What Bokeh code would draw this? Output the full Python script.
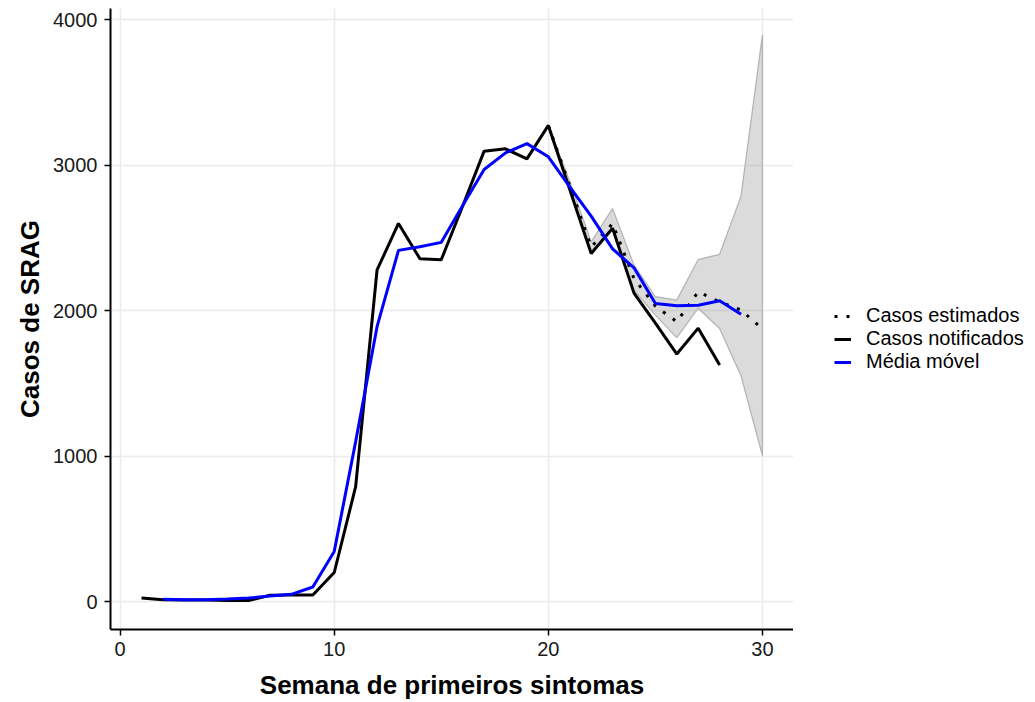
from bokeh.plotting import figure
from bokeh.layouts import row
from bokeh.models import Range1d, FixedTicker, Legend, LegendItem
from bokeh.embed import file_html
from bokeh.resources import INLINE

# ---- data ----
semanas_notificados = list(range(1, 29))
casos_notificados = [25, 12, 10, 10, 8, 7, 43, 45, 45, 200, 790, 2280, 2600, 2358,
                     2351, 2720, 3097, 3113, 3044, 3274, 2834, 2393, 2567, 2121,
                     1914, 1702, 1880, 1626]

semanas_media = list(range(2, 30))
media_movel = [16, 13, 13, 17, 24, 38, 50, 100, 345, 1100, 1890, 2415, 2440, 2470,
               2724, 2971, 3085, 3149, 3058, 2851, 2650, 2425, 2295, 2050, 2034,
               2038, 2068, 1975]

semanas_estimados = list(range(20, 31))
casos_estimados = [3274, 2860, 2438, 2599, 2221, 2031, 1924, 2130, 2060, 2005, 1874]
ic_inferior = [3274, 2830, 2393, 2560, 2141, 1970, 1815, 2017, 1878, 1553, 1004]
ic_superior = [3274, 2890, 2473, 2702, 2313, 2096, 2073, 2352, 2388, 2788, 3897]

x_ticks = [0, 10, 20, 30]
y_ticks = [0, 1000, 2000, 3000, 4000]

legend_labels = ["Casos estimados", "Casos notificados", "Média móvel"]

FONT = "Liberation Sans"

p = figure(width=793, height=702, output_backend="svg", toolbar_location=None,
           x_range=Range1d(-0.45, 31.45), y_range=Range1d(-192, 4078),
           min_border_left=110, min_border_right=0, min_border_top=8,
           min_border_bottom=72, outline_line_color=None,
           background_fill_color="white", border_fill_color="white")

# grid
for g in (p.xgrid, p.ygrid):
    g.grid_line_color = "#ebebeb"
    g.grid_line_width = 1.5
    g.minor_grid_line_color = None

p.xaxis.ticker = FixedTicker(ticks=x_ticks)
p.yaxis.ticker = FixedTicker(ticks=y_ticks)
p.xgrid.ticker = FixedTicker(ticks=x_ticks)
p.ygrid.ticker = FixedTicker(ticks=y_ticks)

for ax in (p.xaxis, p.yaxis):
    ax.axis_line_color = "black"
    ax.axis_line_width = 2
    ax.major_tick_line_color = "black"
    ax.major_tick_line_width = 1.5
    ax.major_tick_out = 6
    ax.major_tick_in = 0
    ax.minor_tick_line_color = None
    ax.major_label_text_font = FONT
    ax.major_label_text_font_size = "20px"
    ax.major_label_text_color = "#1a1a1a"
    ax.axis_label_text_font = FONT
    ax.axis_label_text_font_size = "26px"
    ax.axis_label_text_font_style = "bold"
    ax.axis_label_text_color = "black"

p.xaxis.axis_label = "Semana de primeiros sintomas"
p.yaxis.axis_label = "Casos de SRAG"
p.xaxis.major_label_standoff = 6
p.yaxis.major_label_standoff = 7
p.xaxis.axis_label_standoff = 11
p.yaxis.axis_label_standoff = 5

# ribbon
band_x = semanas_estimados + semanas_estimados[::-1]
band_y = ic_superior + ic_inferior[::-1]
p.patch(band_x, band_y, fill_color="#7f7f7f", fill_alpha=0.28,
        line_color="#b5b5b5", line_width=1.3)

est_style = dict(line_color="black", line_width=3, line_dash="3 9", line_cap="butt")
not_style = dict(line_color="black", line_width=3)
mm_style = dict(line_color="#0000ff", line_width=3)

p.line(semanas_estimados, casos_estimados, **est_style)
p.line(semanas_notificados, casos_notificados, **not_style)
p.line(semanas_media, media_movel, **mm_style)

# legend panel (separate figure so the legend sits right of the plot panel);
# its key renderers use the same series but fall outside its 0..1 ranges
pl = figure(width=242, height=702, output_backend="svg", toolbar_location=None,
            x_axis_type=None, y_axis_type=None,
            x_range=Range1d(0, 1), y_range=Range1d(0, 1),
            min_border_left=0, min_border_right=0, min_border_top=0,
            min_border_bottom=0, outline_line_color=None,
            background_fill_color="white", border_fill_color="white")
pl.xgrid.visible = False
pl.ygrid.visible = False
k1 = pl.line(semanas_estimados, casos_estimados, **est_style)
k2 = pl.line(semanas_notificados, casos_notificados, **not_style)
k3 = pl.line(semanas_media, media_movel, **mm_style)

legend = Legend(items=[LegendItem(label=legend_labels[0], renderers=[k1]),
                       LegendItem(label=legend_labels[1], renderers=[k2]),
                       LegendItem(label=legend_labels[2], renderers=[k3])],
                location=(41, 256), padding=0, margin=0, spacing=0,
                glyph_width=17, glyph_height=20, label_height=20,
                label_standoff=15, label_text_font=FONT,
                label_text_font_size="20px", label_text_color="black",
                border_line_color=None, background_fill_alpha=0)
pl.add_layout(legend, "center")

layout = row(p, pl)
open("out.html", "w").write(file_html(layout, INLINE))
